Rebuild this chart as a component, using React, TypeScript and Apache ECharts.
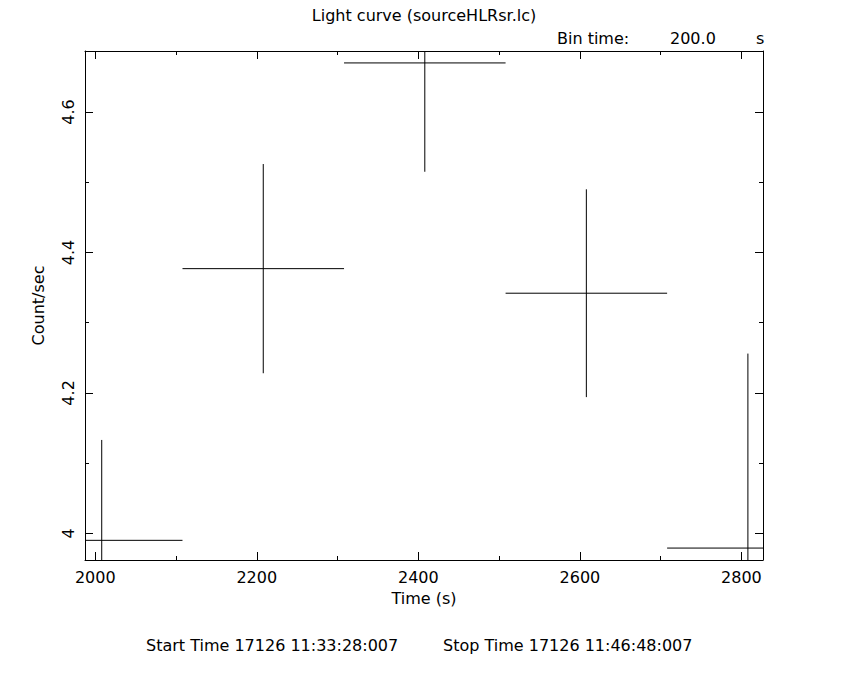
import React, { useEffect, useRef } from "react";
import * as echarts from "echarts";

// ---- data ----
const timeCenters = [2008, 2208, 2408, 2608, 2808]; // bin centres (s)
const countRates = [3.99, 4.377, 4.67, 4.342, 3.979]; // count/sec
const rateErrors = [0.143, 0.149, 0.155, 0.148, 0.277]; // 1-sigma
const binHalfWidth = 100; // half of 200 s bin

const xMajorTicks = [2000, 2200, 2400, 2600, 2800];
const xMinorTicks = [2100, 2300, 2500, 2700];
const yMajorTicks = [4, 4.2, 4.4, 4.6];
const yMinorTicks = [4.1, 4.3, 4.5];

const X_MIN = 1987.3;
const X_MAX = 2826.7;
const Y_MIN = 3.962;
const Y_MAX = 4.687;

const FONT = "DejaVu Sans";
const FS = 16;
const BLACK = "#000000";

export default function App() {
  const ref = useRef<HTMLDivElement>(null);

  useEffect(() => {
    if (!ref.current) return;
    const chart = echarts.init(ref.current, undefined, { renderer: "svg" });

    const data = timeCenters.map((t, i) => [t, countRates[i], rateErrors[i]]);

    const xAxisBase = (pos: "bottom" | "top", ticks: number[], len: number, labels: boolean, line: boolean) => ({
      type: "value",
      position: pos,
      min: X_MIN,
      max: X_MAX,
      axisLine: { show: line, onZero: false, lineStyle: { color: BLACK, width: 1 } },
      axisTick: { show: true, inside: true, length: len, customValues: ticks, lineStyle: { color: BLACK, width: 1 } },
      axisLabel: labels
        ? {
            show: true,
            customValues: ticks,
            color: BLACK,
            fontFamily: FONT,
            fontSize: FS,
            margin: 9,
            formatter: (v: number) => String(v),
          }
        : { show: false },
      splitLine: { show: false },
    });
    const yAxisBase = (pos: "left" | "right", ticks: number[], len: number, labels: boolean, line: boolean) => ({
      type: "value",
      position: pos,
      min: Y_MIN,
      max: Y_MAX,
      axisLine: { show: line, onZero: false, lineStyle: { color: BLACK, width: 1 } },
      axisTick: { show: true, inside: true, length: len, customValues: ticks, lineStyle: { color: BLACK, width: 1 } },
      axisLabel: labels
        ? {
            show: true,
            customValues: ticks,
            rotate: 90,
            color: BLACK,
            fontFamily: FONT,
            fontSize: FS,
            margin: 9,
            formatter: (v: number) => String(Math.round(v * 10) / 10),
          }
        : { show: false },
      splitLine: { show: false },
    });

    const xA: any = xAxisBase("bottom", xMajorTicks, 8, true, true);
    xA.name = "Time (s)";
    xA.nameLocation = "middle";
    xA.nameGap = 30;
    xA.nameTextStyle = { color: BLACK, fontFamily: FONT, fontSize: FS };
    const yA: any = yAxisBase("left", yMajorTicks, 8, true, true);
    yA.name = "Count/sec";
    yA.nameLocation = "middle";
    yA.nameRotate = 90;
    yA.nameGap = 39;
    yA.nameTextStyle = { color: BLACK, fontFamily: FONT, fontSize: FS };

    const txt = (text: string, x: number, y: number, align: string) => ({
      type: "text",
      x,
      y,
      style: { text, fill: BLACK, fontFamily: FONT, fontSize: FS, textAlign: align, textVerticalAlign: "middle" },
    });

    const option: any = {
      animation: false,
      backgroundColor: "#ffffff",
      grid: { left: 85, top: 51, right: 87, bottom: 120, containLabel: false },
      xAxis: [
        xA,
        xAxisBase("bottom", xMinorTicks, 4, false, false),
        xAxisBase("top", xMajorTicks, 8, false, true),
        xAxisBase("top", xMinorTicks, 4, false, false),
      ],
      yAxis: [
        yA,
        yAxisBase("left", yMinorTicks, 4, false, false),
        yAxisBase("right", yMajorTicks, 8, false, true),
        yAxisBase("right", yMinorTicks, 4, false, false),
      ],
      graphic: [
        txt("Light curve (sourceHLRsr.lc)", 424, 15, "center"),
        txt("Bin time:", 557, 38, "left"),
        txt("200.0", 670, 38, "left"),
        txt("s", 756, 38, "left"),
        txt("Start Time 17126 11:33:28:007", 146, 645, "left"),
        txt("Stop Time 17126 11:46:48:007", 443, 645, "left"),
      ],
      series: [
        {
          type: "custom",
          xAxisIndex: 0,
          yAxisIndex: 0,
          data,
          renderItem: (params: any, api: any) => {
            const t = api.value(0);
            const r = api.value(1);
            const e = api.value(2);
            const cs = params.coordSys;
            const x0 = cs.x, x1 = cs.x + cs.width, y0 = cs.y, y1 = cs.y + cs.height;
            const clampX = (v: number) => Math.max(x0, Math.min(x1, v));
            const clampY = (v: number) => Math.max(y0, Math.min(y1, v));
            const left = api.coord([t - binHalfWidth, r]);
            const right = api.coord([t + binHalfWidth, r]);
            const top = api.coord([t, r + e]);
            const bottom = api.coord([t, r - e]);
            return {
              type: "group",
              children: [
                {
                  type: "line",
                  shape: { x1: clampX(left[0]), y1: left[1], x2: clampX(right[0]), y2: right[1] },
                  style: { stroke: BLACK, lineWidth: 1 },
                },
                {
                  type: "line",
                  shape: { x1: top[0], y1: clampY(top[1]), x2: bottom[0], y2: clampY(bottom[1]) },
                  style: { stroke: BLACK, lineWidth: 1 },
                },
              ],
            };
          },
        },
      ],
    };

    chart.setOption(option);
    return () => chart.dispose();
  }, []);

  return <div ref={ref} style={{ width: 850, height: 680, position: "absolute", left: 0, top: 0 }} />;
}
